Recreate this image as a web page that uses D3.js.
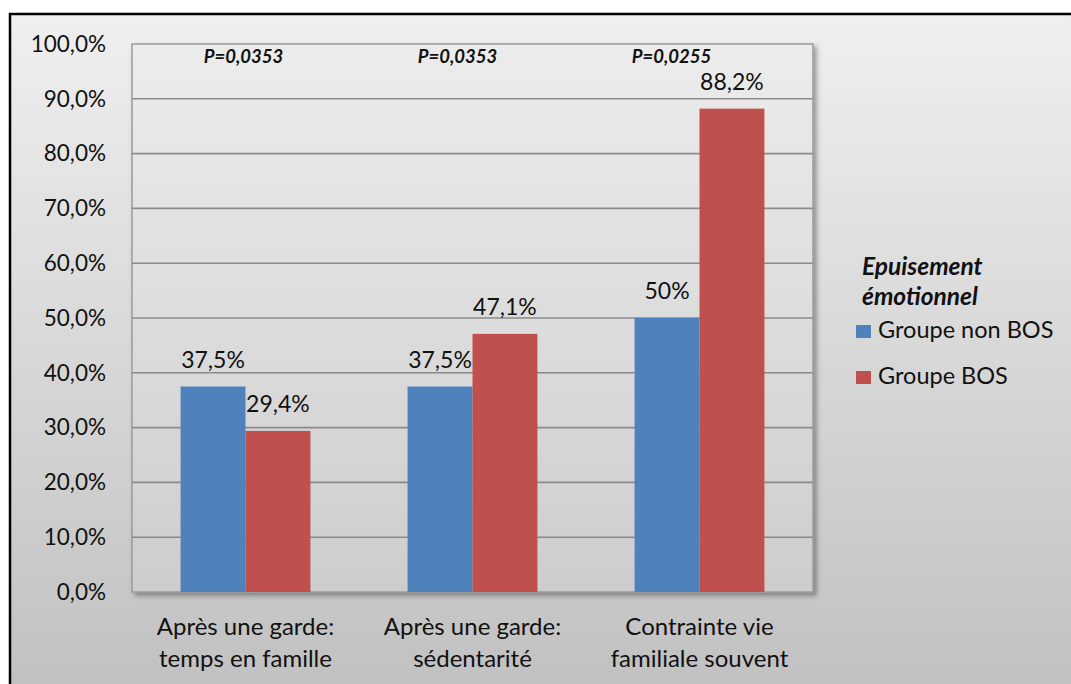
<!DOCTYPE html>
<html>
<head>
<meta charset="utf-8">
<script src="https://cdn.jsdelivr.net/npm/d3@7"></script>
<style>
  body { margin: 0; background: #fff; }
  svg { display: block; font-family: Lato, "Open Sans", sans-serif; }
</style>
</head>
<body>
<svg id="chart" width="1071" height="684"></svg>
<script>
const categories = [
  ["Après une garde:", "temps en famille"],
  ["Après une garde:", "sédentarité"],
  ["Contrainte vie", "familiale souvent"]
];
const seriesNames = ["Groupe non BOS", "Groupe BOS"];
const nonBos = [37.5, 37.5, 50];
const bos = [29.4, 47.1, 88.2];
const nonBosLabels = ["37,5%", "37,5%", "50%"];
const bosLabels = ["29,4%", "47,1%", "88,2%"];
const pValues = ["P=0,0353", "P=0,0353", "P=0,0255"];
const yTicks = [0, 10, 20, 30, 40, 50, 60, 70, 80, 90, 100];
const legendTitle = ["Epuisement", "émotionnel"];

const colors = ["#4f81bd", "#c0504d"];
const svg = d3.select("#chart");
const defs = svg.append("defs");

// backgrounds
const outerGrad = defs.append("linearGradient").attr("id", "outerBg").attr("x1", 0).attr("y1", 0).attr("x2", 0).attr("y2", 1);
outerGrad.append("stop").attr("offset", 0).attr("stop-color", "#efefef");
outerGrad.append("stop").attr("offset", 1).attr("stop-color", "#bfbfbf");
const plotGrad = defs.append("linearGradient").attr("id", "plotBg").attr("x1", 0).attr("y1", 0).attr("x2", 0).attr("y2", 1);
plotGrad.append("stop").attr("offset", 0).attr("stop-color", "#ececec");
plotGrad.append("stop").attr("offset", 1).attr("stop-color", "#cdcdcd");
const shadow = defs.append("filter").attr("id", "shadow").attr("x", "-5%").attr("y", "-5%").attr("width", "115%").attr("height", "115%");
shadow.append("feDropShadow").attr("dx", 3).attr("dy", 3).attr("stdDeviation", 2.5).attr("flood-color", "#000").attr("flood-opacity", 0.35);

svg.append("rect").attr("x", 10).attr("y", 14).attr("width", 1080).attr("height", 700)
  .attr("fill", "url(#outerBg)").attr("stroke", "#000").attr("stroke-width", 2.5);

const plot = { left: 132, top: 44, right: 813, bottom: 592 };

const x = d3.scaleBand().domain(d3.range(categories.length)).range([plot.left, plot.right]);
const barW = x.bandwidth() * 0.286;
const y = d3.scaleLinear().domain([0, 100]).range([plot.bottom, plot.top]);

svg.append("rect")
  .attr("x", plot.left).attr("y", plot.top)
  .attr("width", plot.right - plot.left).attr("height", plot.bottom - plot.top)
  .attr("fill", "url(#plotBg)").attr("stroke", "#9a9a9a").attr("stroke-width", 1.5)
  .attr("filter", "url(#shadow)");

// grid lines
svg.append("g").selectAll("line").data(yTicks.slice(1, -1)).join("line")
  .attr("x1", plot.left).attr("x2", plot.right)
  .attr("y1", d => y(d)).attr("y2", d => y(d))
  .attr("stroke", "#8a8a8a").attr("stroke-width", 1.6);

// y axis labels
const yAxis = d3.axisLeft(y).tickValues(yTicks).tickSize(0).tickPadding(26)
  .tickFormat(d => d3.format(".1f")(d).replace(".", ",") + "%");
const yg = svg.append("g").attr("transform", `translate(${plot.left},0)`).call(yAxis);
yg.select(".domain").remove();
yg.selectAll("text").attr("font-size", 22.5).attr("fill", "#111").attr("font-family", "Lato, 'Open Sans', sans-serif");

// bars
const series = [nonBos, bos];
const labels = [nonBosLabels, bosLabels];
series.forEach((vals, s) => {
  const g = svg.append("g");
  g.selectAll("rect").data(vals).join("rect")
    .attr("x", (d, i) => x(i) + x.bandwidth() / 2 - barW + s * barW)
    .attr("y", d => y(d))
    .attr("width", barW)
    .attr("height", d => y(0) - y(d))
    .attr("fill", colors[s]);
  g.selectAll("text").data(vals).join("text")
    .attr("x", (d, i) => x(i) + x.bandwidth() / 2 - barW / 2 + s * barW)
    .attr("y", d => y(d) - 19)
    .attr("text-anchor", "middle")
    .attr("font-size", 23).attr("fill", "#111")
    .text((d, i) => labels[s][i]);
});

// p-values
const pOffsets = [-2, -15, -28];
svg.append("g").selectAll("text").data(pValues).join("text")
  .attr("x", (d, i) => x(i) + x.bandwidth() / 2 + pOffsets[i])
  .attr("y", 63)
  .attr("text-anchor", "middle")
  .attr("font-size", 18.5).attr("font-weight", "bold").attr("font-style", "italic")
  .attr("fill", "#111")
  .text(d => d);

// category labels
const catG = svg.append("g");
categories.forEach((lines, i) => {
  const t = catG.append("text")
    .attr("x", x(i) + x.bandwidth() / 2)
    .attr("text-anchor", "middle")
    .attr("font-size", 24).attr("fill", "#111");
  lines.forEach((ln, k) => t.append("tspan")
    .attr("x", x(i) + x.bandwidth() / 2).attr("y", 635 + k * 32).text(ln));
});

// legend
const lg = svg.append("g");
lg.selectAll("text.title").data(legendTitle).join("text")
  .attr("class", "title")
  .attr("x", 862).attr("y", (d, i) => 275 + i * 30)
  .attr("font-size", 24.5).attr("font-weight", "bold").attr("font-style", "italic")
  .attr("fill", "#111").text(d => d);
seriesNames.forEach((name, i) => {
  const yy = 331 + i * 46;
  lg.append("rect").attr("x", 856).attr("y", yy - 6).attr("width", 15).attr("height", 13).attr("fill", colors[i]);
  lg.append("text").attr("x", 878).attr("y", yy + 7).attr("font-size", 23.5).attr("fill", "#111").text(name);
});
</script>
</body>
</html>
